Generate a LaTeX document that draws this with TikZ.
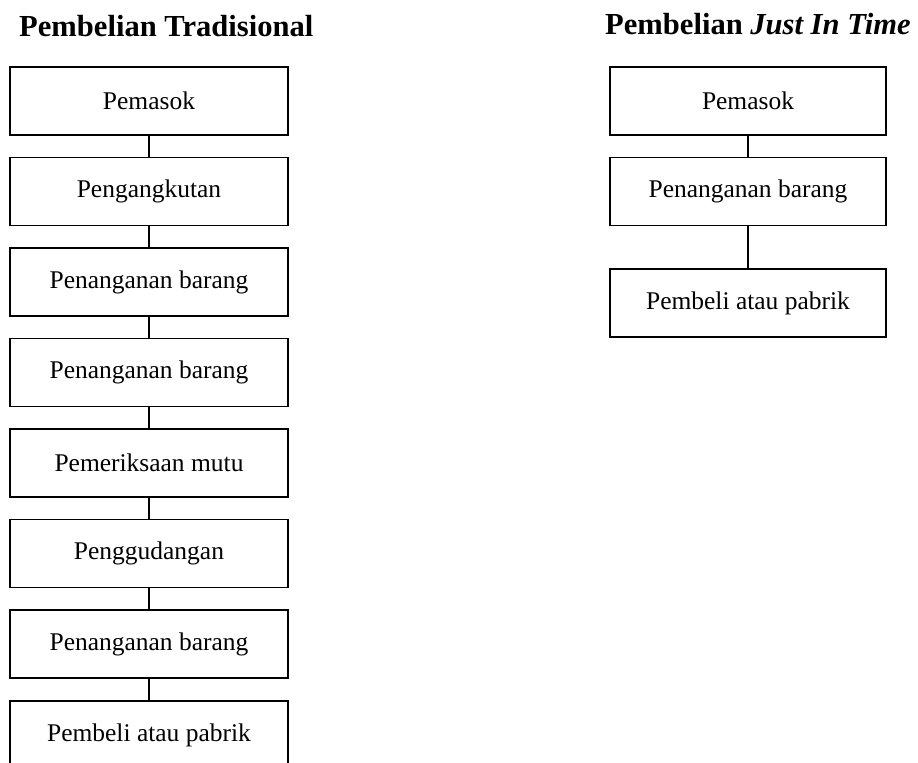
\documentclass[tikz,border=0pt]{standalone}
\usepackage{fontspec}
\setmainfont{Liberation Serif}
\usetikzlibrary{positioning}

\begin{document}
\begin{tikzpicture}[x=1cm,y=1cm,
  box/.style={draw,line width=0.9pt,minimum width=5.56cm,minimum height=1.36cm,inner sep=0pt,font=\fontsize{14.5}{16}\selectfont},
  head/.style={anchor=base west,font=\fontsize{17.4}{19}\selectfont\bfseries},
  link/.style={line width=0.6pt}]
\clip (0,0) rectangle (18.36,-15.24);
\node[head] (tleft) at (0.26,-0.72) {Pembelian Tradisional};
\node[head] (tright) at (11.98,-0.68) {Pembelian \textit{Just In Time}};
% traditional chain
\node[box,anchor=north] (a1) at (2.98,-1.32) {Pemasok};
\node[box,below=0.42cm of a1] (a2) {Pengangkutan};
\node[box,below=0.42cm of a2] (a3) {Penanganan barang};
\node[box,below=0.42cm of a3] (a4) {Penanganan barang};
\node[box,below=0.42cm of a4] (a5) {Pemeriksaan mutu};
\node[box,below=0.42cm of a5] (a6) {Penggudangan};
\node[box,below=0.42cm of a6] (a7) {Penanganan barang};
\node[box,below=0.42cm of a7] (a8) {Pembeli atau pabrik};
\foreach \i/\j in {a1/a2,a2/a3,a3/a4,a4/a5,a5/a6,a6/a7,a7/a8}
  \draw[link] (\i.south)--(\j.north);
% just in time chain
\node[box,anchor=north,minimum width=5.52cm] (b1) at (14.96,-1.32) {Pemasok};
\node[box,below=0.42cm of b1,minimum width=5.52cm] (b2) {Penanganan barang};
\node[box,below=0.84cm of b2,minimum width=5.52cm] (b3) {Pembeli atau pabrik};
\draw[link] (b1.south)--(b2.north);
\draw[link] (b2.south)--(b3.north);
\end{tikzpicture}
\end{document}
